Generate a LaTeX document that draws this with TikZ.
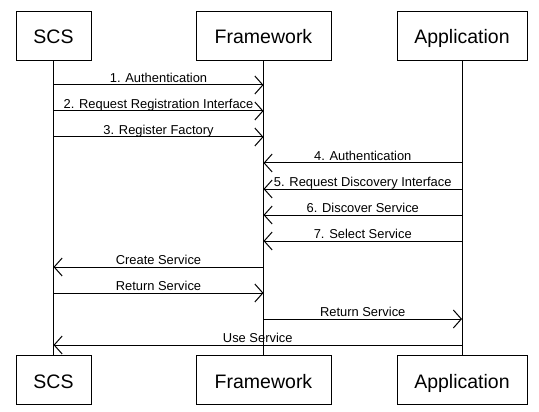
\documentclass[tikz,border=0pt]{standalone}
\usepackage{fontspec}
\setmainfont{Liberation Sans}
\usetikzlibrary{arrows.meta,positioning}
\tikzset{
  actor/.style={draw, line width=1pt, minimum height=49pt, inner sep=0pt, text height=16pt, text depth=0pt, font=\fontsize{19.5}{22}\selectfont},
  msg/.style={line width=1pt, -{Straight Barb[length=8pt,width=18pt]}},
  lbl/.style={anchor=base, yshift=2.5pt, inner sep=0pt, font=\fontsize{12.9}{14}\selectfont}
}
\begin{document}
\begin{tikzpicture}[x=1pt, y=-1pt]
  \useasboundingbox[fill=white] (0,0) rectangle (539,412);
  \node (scs) [actor, minimum width=75pt] at (53.5,36) {SCS};
  \node (fw) [actor, minimum width=135pt, right=104pt of scs] {Framework};
  \node (app) [actor, minimum width=130pt, right=65pt of fw] {Application};
  \node (scs2) [actor, minimum width=75pt, below=294pt of scs] {SCS};
  \node (fw2) [actor, minimum width=135pt, below=294pt of fw] {Framework};
  \node (app2) [actor, minimum width=130pt, below=294pt of app] {Application};

  % lifelines
  \draw[line width=1pt] (scs) -- (scs2);
  \draw[line width=1pt] (fw) -- (fw2);
  \draw[line width=1pt] (app) -- (app2);

  % messages
  \foreach \y/\a/\b/\txt in {85/scs/fw/1. Authentication,
      111/scs/fw/2. Request Registration Interface,
      137/scs/fw/3. Register Factory,
      163/app/fw/4. Authentication,
      189/app/fw/5. Request Discovery Interface,
      215/app/fw/6. Discover Service,
      241/app/fw/7. Select Service,
      267/fw/scs/Create Service,
      293/scs/fw/Return Service,
      319/fw/app/Return Service,
      345/app/scs/Use Service}
    \draw[msg] (\a |- 0,\y) -- node[lbl] {\txt} (\b |- 0,\y);
\end{tikzpicture}
\end{document}
